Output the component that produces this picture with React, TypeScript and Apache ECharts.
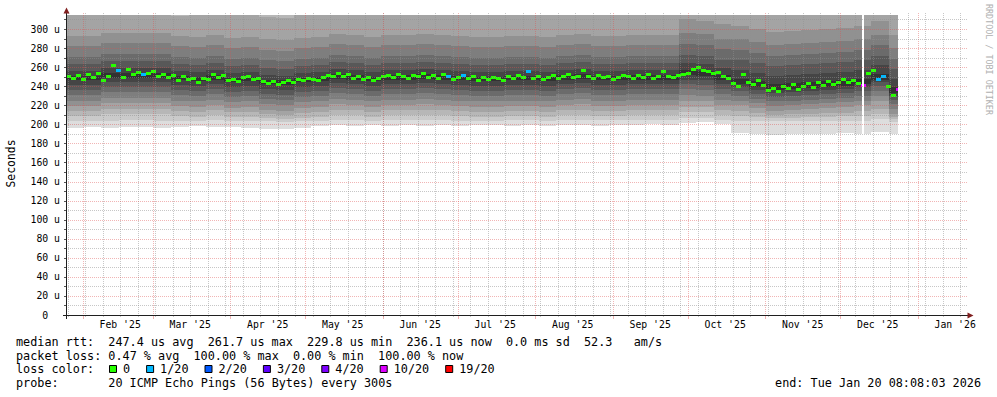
import React, { useEffect, useRef } from "react";
import * as echarts from "echarts";

// ---------- time frame ----------
const DAY = 86400000;
const START = Date.UTC(2025, 0, 25, 8, 8, 3);
const END = Date.UTC(2026, 0, 20, 8, 8, 3);
const DATA_END = Date.UTC(2025, 11, 24, 3, 20, 0);
const GAPS: [number, number][] = [[Date.UTC(2025, 11, 9, 22, 30), Date.UTC(2025, 11, 10, 17, 40)]];
const Y_MAX = 314.7;
const SMOKE_STEP_DAYS = 7;
const MEDIAN_STEP_DAYS = 2;

// ---------- smoke: sorted ping ranks (us), one value per week ----------
const ping1 = [196,197,196,197,197,196,197,198,197,197,196,195,195,196,198,199,198,199,198,199,198,199,198,199,199,198,199,198,199,199,198,199,199,200,199,201,202,200, 191,190,189,190,190,190,191,190,192,190];
const ping2 = [203,204,204,205,205,204,204,204,205,204,204,203,202,203,204,205,205,204,205,205,205,205,204,204,204,205,205,204,205,205,205,205,205,205,205,207,207,205, 204,204,203,203,204,204,204,204,206,202];
const ping3 = [209,209,211,211,211,211,209,208,210,208,208,207,206,207,208,210,210,208,210,210,210,210,209,208,208,209,209,208,210,210,209,209,210,210,210,213,213,210, 209,208,207,207,208,208,209,209,211,206];
const ping4 = [214,214,216,216,216,216,214,213,215,213,213,211,210,212,213,215,215,213,215,215,215,215,214,213,213,214,214,213,215,215,214,214,215,215,215,218,218,215, 214,212,210,211,211,212,212,214,216,208];
const ping5 = [219,219,222,222,222,222,219,218,220,217,218,215,214,217,218,221,220,218,220,220,221,220,219,218,218,219,219,218,220,221,219,219,220,220,220,225,224,220, 220,217,214,215,216,217,218,220,225,211];
const ping6 = [225,225,228,228,228,228,225,224,226,223,224,221,220,223,224,227,226,224,226,226,227,226,225,224,224,225,225,224,226,227,225,225,226,226,226,231,230,226, 225,222,219,220,221,222,223,225,230,216];
const ping7 = [231,231,234,234,234,234,231,230,232,229,230,227,226,229,230,233,232,230,232,232,233,232,231,230,230,231,231,230,232,233,231,231,232,232,232,237,236,232, 230,227,224,225,226,227,228,230,235,221];
const ping8 = [236,236,239,239,239,239,236,235,237,234,235,232,231,234,235,238,237,235,237,237,238,237,236,235,235,236,236,235,237,238,236,236,237,237,237,242,241,237, 235,232,229,230,231,232,233,235,240,226];
const ping9 = [241,241,244,244,244,244,241,240,242,239,240,237,236,239,240,243,242,240,242,242,243,242,241,240,240,241,241,240,242,243,241,241,242,242,242,247,246,242, 239,236,233,234,235,236,237,239,244,230];
const ping10 = [246,246,249,249,249,249,246,245,247,244,245,242,241,244,245,248,247,245,247,247,248,247,246,245,245,246,246,245,247,248,246,246,247,247,247,252,251,247, 242,239,236,237,238,239,240,242,247,233];
const ping11 = [251,251,254,254,254,254,251,250,252,249,250,247,246,249,250,253,252,250,252,252,253,252,251,250,250,251,251,250,252,253,251,251,252,252,252,257,256,252, 248,245,242,243,244,245,246,248,253,239];
const ping12 = [256,256,259,259,259,259,256,255,257,254,255,252,251,254,255,258,257,255,257,257,258,257,256,255,255,256,256,255,257,258,256,256,257,257,257,264,263,259, 257,254,251,252,253,254,255,257,262,248];
const ping13 = [263,263,266,266,266,266,263,262,264,261,262,259,258,261,262,265,264,262,264,264,265,264,263,262,262,263,263,262,264,265,263,263,264,264,264,273,272,268, 267,264,261,262,263,264,265,267,272,258];
const ping14 = [271,271,274,274,274,274,271,270,272,269,270,267,266,269,270,273,272,270,272,272,273,272,271,270,270,271,271,270,272,273,271,271,272,272,272,284,283,279, 278,275,272,273,274,275,276,278,283,269];
const ping15 = [282,282,285,285,285,285,282,281,283,280,281,278,277,280,281,284,283,281,283,283,284,283,282,281,281,282,282,281,283,284,282,282,283,283,283,296,295,290, 289,286,283,284,285,286,287,289,294,280];
const ping16 = [293,293,296,296,296,296,293,292,294,291,292,289,288,291,292,295,294,292,294,294,295,294,293,292,292,293,293,292,294,295,293,293,294,294,294,310,308,305, 303,300,297,298,299,300,301,303,308,294];
const ping17 = [318,320,324,316,322,320,314,318,322,315,317,313,312,316,318,322,320,317,320,321,322,320,317,316,318,320,319,316,320,322,318,317,320,319,321,338,336,332, 325,322,319,320,321,322,323,325,330,316];
const ping18 = [343,345,350,342,348,346,340,344,348,341,343,339,338,342,344,348,346,343,346,347,348,346,343,342,344,346,345,342,346,348,344,343,346,345,347,366,364,361, 351,348,345,346,347,348,349,351,356,342];
const ping19 = [385,390,396,382,392,388,380,386,392,381,384,378,376,382,386,392,388,384,388,390,392,388,384,382,386,388,387,382,388,392,386,384,388,387,390,415,412,408, 395,390,387,388,389,390,392,395,400,385];
const ping20 = [480,495,510,470,500,490,465,485,505,470,475,460,455,470,485,500,490,480,490,495,500,490,480,470,485,490,488,470,490,500,485,480,490,488,495,540,535,525, 505,495,490,492,495,498,500,505,515,480];
const pings = [ping1, ping2, ping3, ping4, ping5, ping6, ping7, ping8, ping9, ping10, ping11, ping12, ping13, ping14, ping15, ping16, ping17, ping18, ping19, ping20];

// ---------- median rtt (us), one value per 2 days ----------
const medianRtt = [
  250, 248, 251, 247, 252, 249, 253, 246, 250, 261.7, 256, 249, 258, 252, 254, 252,
  253, 255, 250, 252, 249, 251, 246, 250, 247, 248, 244, 248, 247, 252, 249, 251,
  246, 247, 245, 249, 250, 247, 248, 245, 243, 245, 242, 244, 246, 244, 247, 246,
  248, 247, 246, 249, 251, 250, 253, 250, 252, 248, 250, 247, 249, 246, 248, 250,
  251, 249, 252, 250, 248, 251, 250, 253, 249, 251, 248, 252, 250, 247, 249, 251,
  248, 250, 246, 249, 247, 249, 248, 246, 250, 248, 251, 249, 255, 248, 250, 247,
  249, 251, 248, 250, 252, 249, 250, 257, 250, 248, 251, 249, 250, 247, 249, 251,
  250, 248, 251, 249, 252, 248, 250, 255, 250, 249, 251, 252, 253, 258, 260, 256,
  255, 253, 254, 250, 248, 243, 240, 252, 244, 242, 246, 241, 236, 238, 234, 240,
  238, 242, 237, 240, 243, 239, 244, 241, 245, 242, 244, 247, 244, 246, 243, 241,
  253, 256, 247, 250, 240, 229.8, 236.1,
];
const lossBucket = [10, 15, 76, 79, 92, 159, 162, 163, 166];
const lossPings = [1, 1, 1, 1, 1, 10, 1, 1, 10];

const lossLabels = ["0", "1/20", "2/20", "3/20", "4/20", "10/20", "19/20"];
const lossThresholds = [0, 1, 2, 3, 4, 10, 19];
const lossColors = ["#26ff00", "#00b8ff", "#0059ff", "#5e00ff", "#7e00ff", "#dd00ff", "#ff0000"];

// ---------- axis labels ----------
const monthLabels = ["Feb '25", "Mar '25", "Apr '25", "May '25", "Jun '25", "Jul '25", "Aug '25", "Sep '25", "Oct '25", "Nov '25", "Dec '25", "Jan '26"];
const yLabelValues = [0, 20, 40, 60, 80, 100, 120, 140, 160, 180, 200, 220, 240, 260, 280, 300];

// ---------- legend texts ----------
const legendMedian = "median rtt:  247.4 us avg  261.7 us max  229.8 us min  236.1 us now  0.0 ms sd  52.3   am/s";
const legendLoss = "packet loss: 0.47 % avg  100.00 % max  0.00 % min  100.00 % now";
const legendColorTitle = "loss color:";
const legendProbe = "probe:       20 ICMP Echo Pings (56 Bytes) every 300s";
const legendEnd = "end: Tue Jan 20 08:08:03 2026";
const yUnitTitle = "Seconds";
const watermark = "RRDTOOL / TOBI OETIKER";

// ---------- styles ----------
const MONO = '"DejaVu Sans Mono", monospace';
const SHADES = [221, 202, 183, 164, 145, 126, 107, 88, 69, 50].map((v) => `rgb(${v},${v},${v})`);
const GRID_MINOR = "rgba(143,143,143,0.5)";
const GRID_MAJOR = "rgba(222,79,79,0.42)";
const CH = 7.1;

const monthStarts = monthLabels.map((_, i) => Date.UTC(2025, 1 + i, 1));
const monthLabelPos = monthStarts.map((t) => t + 15 * DAY);
const weekStarts: number[] = [];
for (let t = Date.UTC(2025, 0, 26); t < END; t += 7 * DAY) weekStarts.push(t);

function segments(a: number, b: number): [number, number][] {
  let segs: [number, number][] = [[a, b]];
  for (const [g0, g1] of GAPS) {
    const next: [number, number][] = [];
    for (const [s, e] of segs) {
      if (g1 <= s || g0 >= e) { next.push([s, e]); continue; }
      if (g0 > s) next.push([s, g0]);
      if (g1 < e) next.push([g1, e]);
    }
    segs = next;
  }
  return segs.filter(([s, e]) => e > s);
}

function colorFor(lost: number) {
  let c = lossColors[0];
  lossThresholds.forEach((th, i) => { if (lost >= th) c = lossColors[i]; });
  return c;
}

const smokeData = ping1.map((_, w) => {
  const t0 = START + w * SMOKE_STEP_DAYS * DAY;
  return [t0, t0 + SMOKE_STEP_DAYS * DAY, ...pings.map((p) => p[w])];
});

const medianData = medianRtt.map((v, i) => {
  const t0 = START + i * MEDIAN_STEP_DAYS * DAY;
  const k = lossBucket.indexOf(i);
  return [t0, t0 + MEDIAN_STEP_DAYS * DAY, v, k >= 0 ? lossPings[k] : 0];
});

const gridData: number[][] = [];
weekStarts.forEach((t) => gridData.push([t, 0, 0]));
monthStarts.forEach((t) => gridData.push([t, 0, 1]));
for (let v = 10; v <= 310; v += 10) gridData.push([START, v, v % 20 === 0 ? 3 : 2]);

function textEl(text: string, x: number, y: number, size: number, align = "left", extra: any = {}) {
  return {
    type: "text",
    x,
    y,
    z: 100,
    silent: true,
    ...extra,
    style: {
      text,
      font: `${size}px ${MONO}`,
      fill: extra.fill || "#000",
      align,
      verticalAlign: "middle",
      textAlign: align,
      textVerticalAlign: "middle",
    },
  };
}

function lineTokens(line: string, x0: number, y: number) {
  const out: any[] = [];
  const re = /\S+(?: \S+)*/g;
  let m: RegExpExecArray | null;
  while ((m = re.exec(line))) out.push(textEl(m[0], x0 + m.index * CH, y, 11.8));
  return out;
}

function buildGraphics() {
  const g: any[] = [];
  // axes
  g.push({ type: "line", z: 100, silent: true, shape: { x1: 66.5, y1: 319, x2: 66.5, y2: 13 }, style: { stroke: "#1f1f1f", lineWidth: 1 } });
  g.push({ type: "polygon", z: 100, silent: true, shape: { points: [[63.5, 13.5], [69.5, 13.5], [66.5, 7.5]] }, style: { fill: "#801f1f" } });
  g.push({ type: "line", z: 100, silent: true, shape: { x1: 63, y1: 315.5, x2: 968, y2: 315.5 }, style: { stroke: "#1f1f1f", lineWidth: 1 } });
  g.push({ type: "polygon", z: 100, silent: true, shape: { points: [[967.5, 312.5], [967.5, 318.5], [973.5, 315.5]] }, style: { fill: "#801f1f" } });
  // unit & watermark
  g.push(textEl(yUnitTitle, 11, 163.5, 11.4, "center", { rotation: Math.PI / 2 }));
  g.push(textEl(watermark, 989, 59.5, 8.4, "center", { rotation: -Math.PI / 2, fill: "#b0b0b0" }));
  // legend
  g.push(...lineTokens(legendMedian, 16, 341.5));
  g.push(...lineTokens(legendLoss, 16, 355.5));
  g.push(textEl(legendColorTitle, 16, 369.3, 11.8));
  let bx = 109;
  lossLabels.forEach((lab, i) => {
    g.push({ type: "rect", z: 100, silent: true, shape: { x: bx + 0.5, y: 365.5, width: 7, height: 7 }, style: { fill: lossColors[i], stroke: "#000", lineWidth: 1 } });
    g.push(textEl(lab, bx + 14, 369.3, 11.8));
    bx += 14 + lab.length * CH + 16;
  });
  g.push(...lineTokens(legendProbe, 16, 383.3));
  g.push(textEl(legendEnd, 981, 383.3, 11.8, "right"));
  return g;
}

export default function App() {
  const ref = useRef<HTMLDivElement>(null);
  useEffect(() => {
    if (!ref.current) return;
    const chart = echarts.init(ref.current, null, { renderer: "svg" });
    const option: any = {
      animation: false,
      backgroundColor: "#ffffff",
      grid: { left: 66, right: 31, top: 15, bottom: 82, containLabel: false, outerBoundsMode: "none" },
      xAxis: {
        type: "value",
        min: START,
        max: END,
        axisLine: { show: false },
        axisTick: { show: false },
        splitLine: { show: false },
        axisLabel: {
          customValues: monthLabelPos,
          formatter: (v: number) => {
            const i = monthLabelPos.indexOf(v);
            return i >= 0 ? monthLabels[i] : "";
          },
          fontFamily: MONO,
          fontSize: 9.8,
          color: "#000",
          margin: 4,
        },
      },
      yAxis: {
        type: "value",
        min: 0,
        max: Y_MAX,
        interval: 20,
        axisLine: { show: false },
        axisTick: { show: false },
        splitLine: { show: false },
        axisLabel: {
          customValues: yLabelValues,
          formatter: (v: number) => (v === 0 ? "{z|0}" : `${v} u`),
          rich: { z: { fontFamily: MONO, fontSize: 9.8, color: "#000", padding: [0, 11.8, 0, 0] } },
          fontFamily: MONO,
          fontSize: 9.8,
          color: "#000",
          margin: 6,
        },
      },
      series: [
        {
          type: "custom",
          name: "smoke",
          z: 1,
          clip: true,
          silent: true,
          encode: { x: 0, y: 2 },
          data: smokeData,
          renderItem: (_p: any, api: any) => {
            const t0 = api.value(0);
            const t1 = Math.min(api.value(1), DATA_END);
            const children: any[] = [];
            for (const [a, b] of segments(t0, t1)) {
              const xa = Math.round(api.coord([a, 0])[0]);
              const xb = Math.round(api.coord([b, 0])[0]);
              if (xb <= xa) continue;
              for (let i = 0; i < 10; i++) {
                const lo = api.value(2 + i);
                const hi = Math.min(api.value(2 + 19 - i), Y_MAX);
                const yTop = Math.round(api.coord([a, hi])[1]);
                const yBot = Math.round(api.coord([a, lo])[1]);
                if (yBot <= yTop) continue;
                children.push({ type: "rect", shape: { x: xa, y: yTop, width: xb - xa, height: yBot - yTop }, style: { fill: SHADES[i] } });
              }
            }
            return { type: "group", children };
          },
        },
        {
          type: "custom",
          name: "median",
          z: 2,
          clip: true,
          silent: true,
          encode: { x: 0, y: 2 },
          data: medianData,
          renderItem: (_p: any, api: any) => {
            const t0 = api.value(0);
            const t1 = Math.min(api.value(1), DATA_END);
            const v = api.value(2);
            const color = colorFor(api.value(3));
            const yc = api.coord([t0, v])[1];
            const children = segments(t0, t1).map(([a, b]) => {
              const xa = Math.round(api.coord([a, v])[0]);
              const xb = Math.round(api.coord([b, v])[0]);
              return { type: "rect", shape: { x: xa, y: Math.round(yc - 1.5), width: Math.max(xb - xa, 1), height: 3 }, style: { fill: color } };
            });
            return { type: "group", children };
          },
        },
        {
          type: "custom",
          name: "grid",
          z: 3,
          clip: false,
          silent: true,
          encode: { x: 0, y: 1 },
          data: gridData,
          renderItem: (_p: any, api: any) => {
            const kind = api.value(2);
            if (kind < 2) {
              const t = api.value(0);
              const x = Math.round(api.coord([t, 0])[0]) + 0.5;
              const y0 = Math.round(api.coord([t, 0])[1]);
              const y1 = Math.round(api.coord([t, Y_MAX])[1]);
              const col = kind === 1 ? GRID_MAJOR : GRID_MINOR;
              return {
                type: "group",
                children: [
                  { type: "line", shape: { x1: x, y1: y1 - 2, x2: x, y2: y0 }, style: { stroke: col, lineWidth: 1, lineDash: [1, 1] } },
                  { type: "line", shape: { x1: x, y1: y0, x2: x, y2: y0 + (kind === 1 ? 4 : 2) }, style: { stroke: col, lineWidth: 1 } },
                ],
              };
            }
            const v = api.value(1);
            const y = Math.round(api.coord([START, v])[1]) + 0.5;
            const xl = api.coord([START, v])[0];
            const xr = api.coord([END, v])[0];
            const col = kind === 3 ? GRID_MAJOR : GRID_MINOR;
            return {
              type: "group",
              children: [
                { type: "line", shape: { x1: xl, y1: y, x2: xr + 2, y2: y }, style: { stroke: col, lineWidth: 1, lineDash: [1, 1] } },
                { type: "line", shape: { x1: xl - 2, y1: y, x2: xl, y2: y }, style: { stroke: "#555", lineWidth: 1 } },
              ],
            };
          },
        },
      ],
      graphic: buildGraphics(),
    };
    chart.setOption(option);
    return () => chart.dispose();
  }, []);
  return <div ref={ref} style={{ position: "fixed", left: 0, top: 0, width: 997, height: 397 }} />;
}
